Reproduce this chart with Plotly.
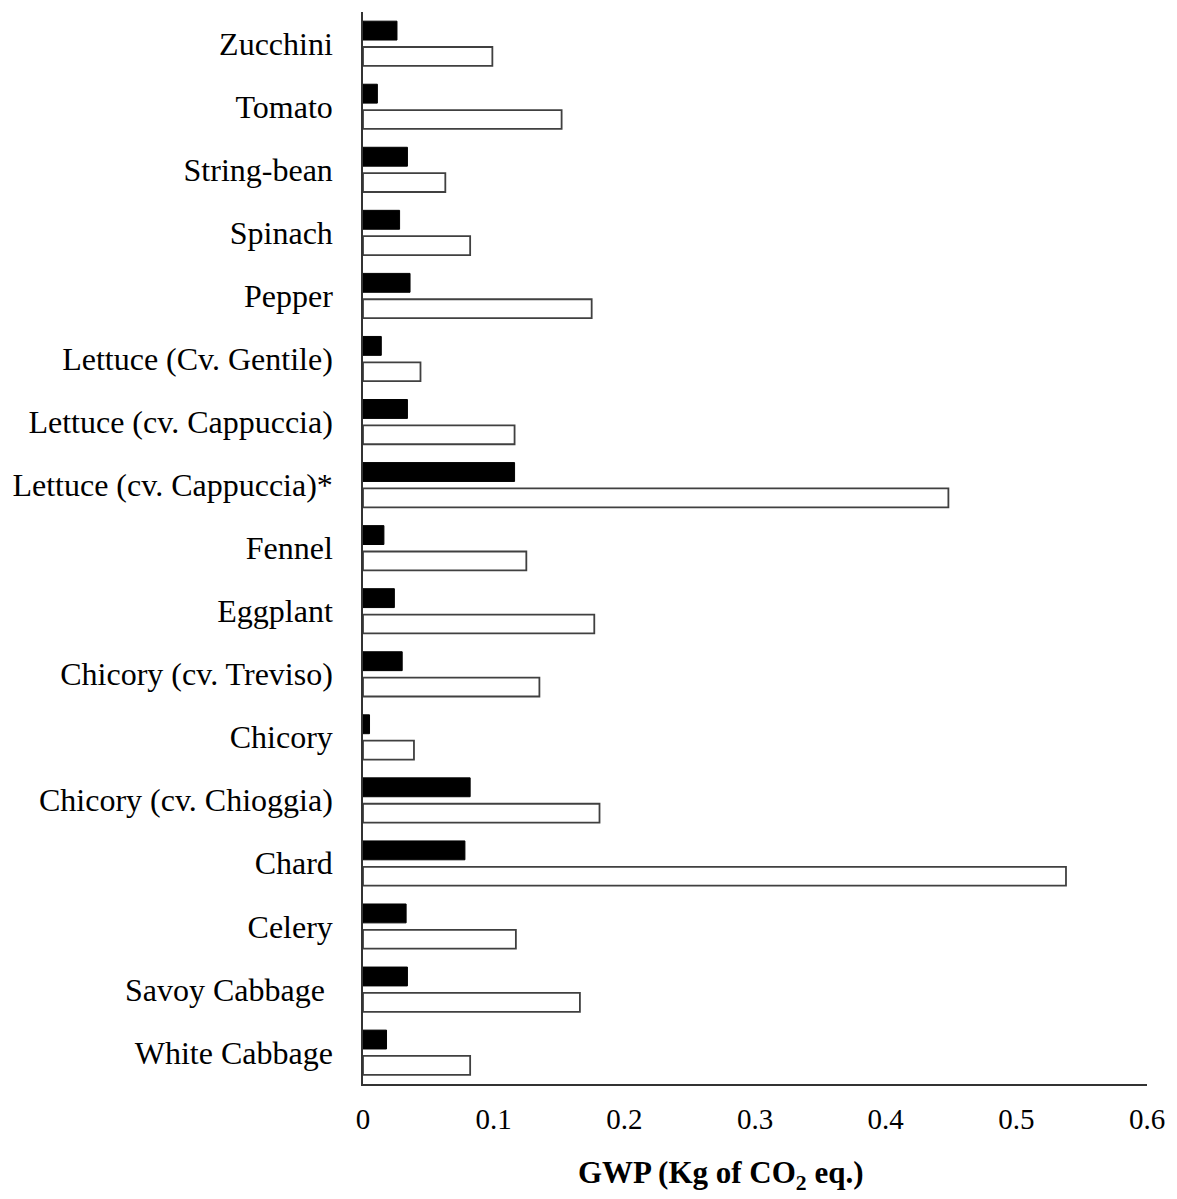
import plotly.graph_objects as go

categories = [
    "Zucchini", "Tomato", "String-bean", "Spinach", "Pepper",
    "Lettuce (Cv. Gentile)", "Lettuce (cv. Cappuccia)", "Lettuce (cv. Cappuccia)*",
    "Fennel", "Eggplant", "Chicory (cv. Treviso)", "Chicory",
    "Chicory (cv. Chioggia)", "Chard", "Celery", "Savoy Cabbage ", "White Cabbage",
]
black_values = [0.026, 0.011, 0.034, 0.028, 0.036, 0.014, 0.034, 0.116,
                0.016, 0.024, 0.030, 0.005, 0.082, 0.078, 0.033, 0.034, 0.018]
white_values = [0.099, 0.152, 0.063, 0.082, 0.175, 0.044, 0.116, 0.448,
                0.125, 0.177, 0.135, 0.039, 0.181, 0.538, 0.117, 0.166, 0.082]
x_ticks = [0, 0.1, 0.2, 0.3, 0.4, 0.5, 0.6]
x_tick_labels = ["0", "0.1", "0.2", "0.3", "0.4", "0.5", "0.6"]

FONT = "Liberation Serif, Times New Roman, serif"

fig = go.Figure()
fig.add_trace(go.Bar(
    y=categories, x=black_values, orientation="h",
    marker=dict(color="black", line=dict(color="black", width=1)),
    showlegend=False,
))
fig.add_trace(go.Bar(
    y=categories, x=white_values, orientation="h",
    marker=dict(color="white", line=dict(color="#404040", width=1.8)),
    showlegend=False,
))

fig.update_layout(
    width=1169, height=1191,
    margin=dict(l=351, r=30, t=4, b=115),
    paper_bgcolor="white", plot_bgcolor="white",
    barmode="group", bargap=0.18, bargroupgap=0.27,
    font=dict(family=FONT, color="black", size=30),
)
fig.update_xaxes(
    range=[0, 0.6], tickvals=x_ticks, ticktext=x_tick_labels,
    showgrid=False, zeroline=False,
    showline=True, linecolor="#333333", linewidth=1.5,
    ticks="", ticklabelstandoff=8,
    tickfont=dict(family=FONT, size=29, color="black"),
)
fig.update_yaxes(
    autorange="reversed", showgrid=False, zeroline=False,
    showline=True, linecolor="#333333", linewidth=1.5,
    ticks="", ticklabelstandoff=22,
    tickfont=dict(family=FONT, size=32, color="black"),
)
fig.add_annotation(
    text="<b>GWP (Kg of CO<sub>2</sub> eq.)</b>",
    xref="paper", yref="paper", x=0.457, y=0, yshift=-91,
    xanchor="center", yanchor="middle", showarrow=False,
    font=dict(family=FONT, size=31, color="black"),
)

fig.write_html("out.html")
